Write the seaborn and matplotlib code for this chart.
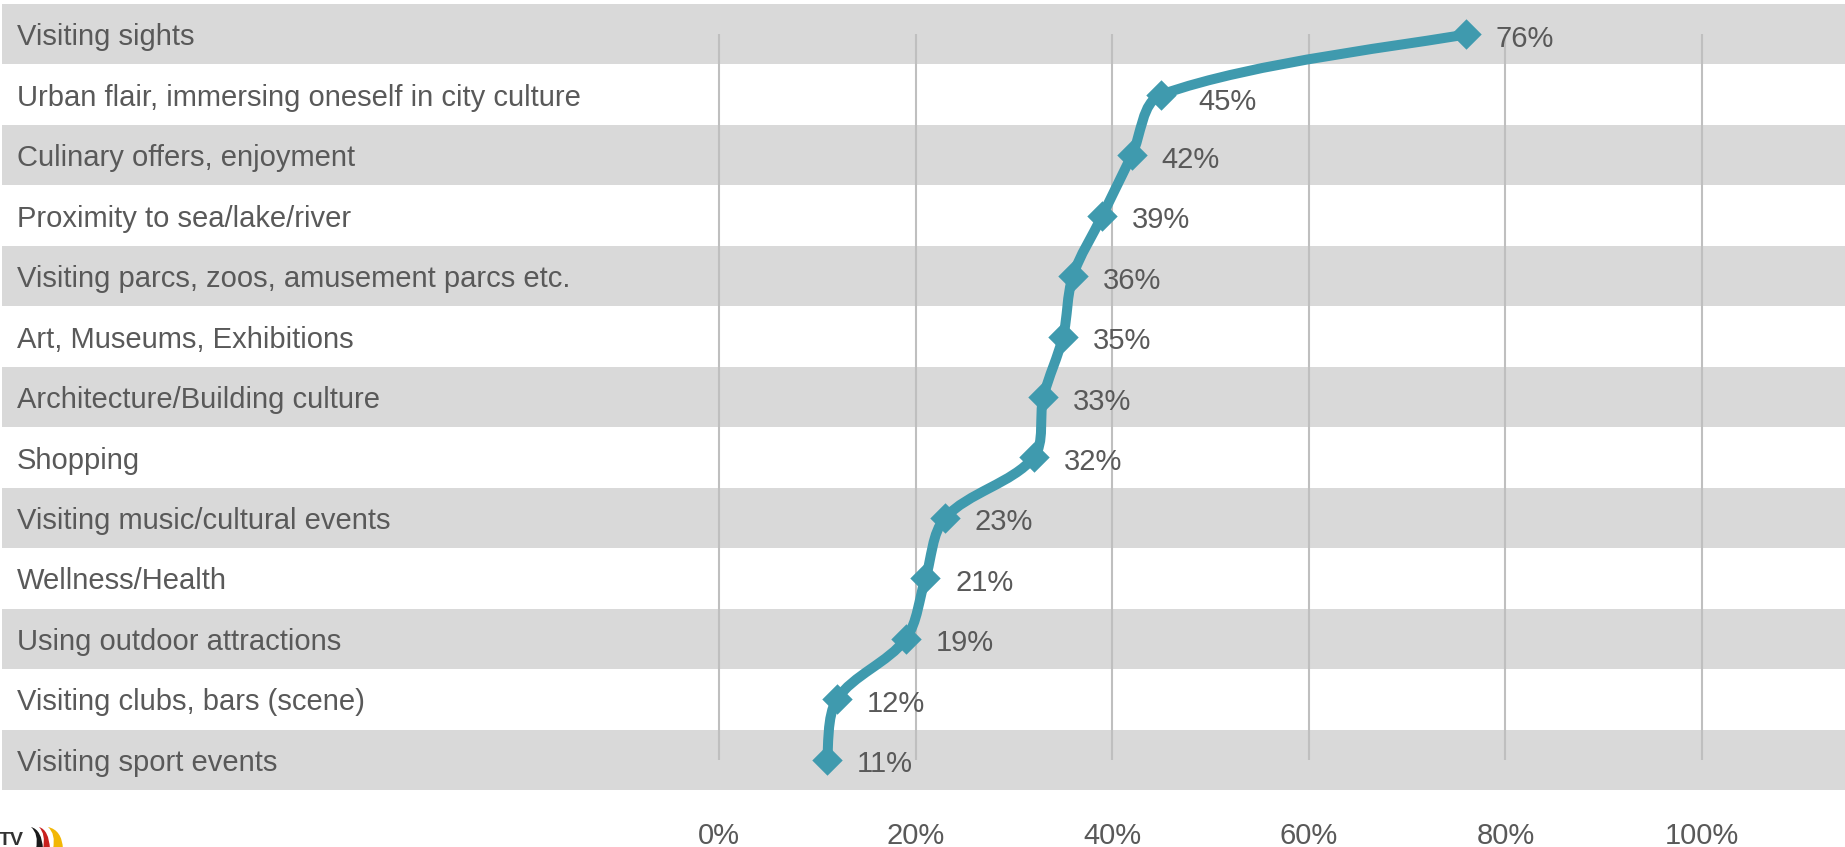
import numpy as np
import pandas as pd
import matplotlib
matplotlib.use("Agg")
import matplotlib.pyplot as plt
from matplotlib.path import Path
from matplotlib.patches import PathPatch
import seaborn as sns

# Travel motives and share of respondents (%)
categories = [
    "Visiting sights",
    "Urban flair, immersing oneself in city culture",
    "Culinary offers, enjoyment",
    "Proximity to sea/lake/river",
    "Visiting parcs, zoos, amusement parcs etc.",
    "Art, Museums, Exhibitions",
    "Architecture/Building culture",
    "Shopping",
    "Visiting music/cultural events",
    "Wellness/Health",
    "Using outdoor attractions",
    "Visiting clubs, bars (scene)",
    "Visiting sport events",
]
shares = [76, 45, 42, 39, 36, 35, 33, 32, 23, 21, 19, 12, 11]
tick_values = [0, 20, 40, 60, 80, 100]
tick_labels = ["0%", "20%", "40%", "60%", "80%", "100%"]

LINE = "#3F9AAE"
TEXT = "#595959"
BAND = "#D9D9D9"
GRID = "#BFBFBF"
FS = 21

sns.set_theme(style="white")
plt.rcParams["font.family"] = ["Liberation Sans", "DejaVu Sans"]

df = pd.DataFrame({"motive": categories, "share": shares})
df["row"] = np.arange(len(df))

W, H = 1845, 847
fig = plt.figure(figsize=(W / 100, H / 100), dpi=100)
ax = fig.add_axes([2 / W, 57 / H, (W - 2) / W, 786 / H])

n = len(df)
ax.set_ylim(n - 0.5, -0.5)
ax.set_xlim(-72.94, 114.55)

# alternating row bands
for i in range(0, n, 2):
    ax.axhspan(i - 0.5, i + 0.5, color=BAND, lw=0, zorder=0)

# vertical gridlines between first and last row centres
ax.vlines(tick_values, 0, n - 1, color=GRID, lw=1.5, zorder=1)

# smoothed line: cubic Bezier segments, tangents scaled by neighbouring
# segment lengths measured in screen space
fig.canvas.draw()
pts = np.column_stack([df["share"].to_numpy(float), df["row"].to_numpy(float)])
scr = ax.transData.transform(pts)
verts = [tuple(pts[0])]
codes = [Path.MOVETO]
for i in range(n - 1):
    i0 = max(i - 1, 0)
    i3 = min(i + 2, n - 1)
    p0, p1, p2, p3 = pts[i0], pts[i], pts[i + 1], pts[i3]
    s0, s1, s2, s3 = scr[i0], scr[i], scr[i + 1], scr[i3]
    d01 = np.hypot(*(s1 - s0))
    d12 = np.hypot(*(s2 - s1))
    d23 = np.hypot(*(s3 - s2))
    f1 = d12 / (d01 + d12) / 3.0 if d01 > 0 else 1 / 6
    f2 = d12 / (d12 + d23) / 3.0 if d23 > 0 else 1 / 6
    c1 = p1 + (p2 - p0) * f1
    c2 = p2 - (p3 - p1) * f2
    verts += [tuple(c1), tuple(c2), tuple(p2)]
    codes += [Path.CURVE4, Path.CURVE4, Path.CURVE4]
ax.add_patch(PathPatch(Path(verts, codes), facecolor="none", edgecolor=LINE,
                       lw=7.2, capstyle="round", joinstyle="round", zorder=3))

sns.scatterplot(data=df, x="share", y="row", marker="D", s=240, color=LINE,
                edgecolor=LINE, linewidth=0, ax=ax, zorder=4, legend=False)

# value labels to the right of each marker
for _, r in df.iterrows():
    dx, dy = 21.5, -9
    if r["row"] == 1:
        dx, dy = 27, -11
    ax.annotate(f"{r['share']}%", (r["share"], r["row"]), xytext=(dx, dy),
                textcoords="offset points", ha="left", va="baseline",
                fontsize=FS, color=TEXT, zorder=5)

# category labels at the left edge
for _, r in df.iterrows():
    ax.annotate(r["motive"], (15 / (W - 2), r["row"]), xycoords=ax.get_yaxis_transform(),
                xytext=(0, -8), textcoords="offset points",
                ha="left", va="baseline", fontsize=FS, color=TEXT, zorder=5)

ax.set_xticks(tick_values)
ax.set_xticklabels(tick_labels)
ax.set_yticks([])
ax.tick_params(axis="x", length=0, pad=23, labelsize=FS, labelcolor=TEXT)
ax.set_xlabel("")
ax.set_ylabel("")
for s in ax.spines.values():
    s.set_visible(False)

# small logo in the lower left corner
fig.text(-1 / 100, 2 / 100, "TV", transform=fig.dpi_scale_trans, fontsize=14,
         color="#333333", fontweight="bold", ha="left", va="baseline")
for (xt, xl, xr, col) in [(31, 36, 43, "#1A1A1A"), (39, 43, 50, "#C8201E"),
                          (48, 53, 63, "#F2B705")]:
    yt, yb = (H - 827) / 100, -0.02
    cy = (H - 834) / 100
    p = Path([(xt / 100, yt), ((xl + 3) / 100, cy), (xl / 100, yb),
              (xr / 100, yb), ((xr - 1) / 100, cy + 0.04), (xt / 100, yt),
              (xt / 100, yt)],
             [Path.MOVETO, Path.CURVE3, Path.CURVE3, Path.LINETO,
              Path.CURVE3, Path.CURVE3, Path.CLOSEPOLY])
    fig.add_artist(PathPatch(p, facecolor=col, edgecolor="none",
                             transform=fig.dpi_scale_trans))

fig.savefig("out.png", dpi=100)
